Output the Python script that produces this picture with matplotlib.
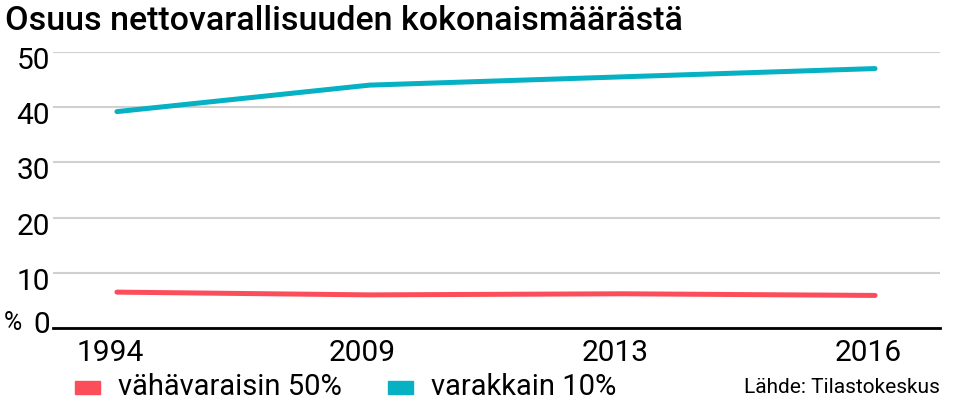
import matplotlib
matplotlib.use("Agg")
import matplotlib.pyplot as plt
import matplotlib.transforms as mtransforms
from matplotlib.patches import Rectangle

vuodet = ["1994", "2009", "2013", "2016"]
vahavaraisin = [6.5, 6.0, 6.2, 5.9]
varakkain = [39.2, 44.0, 45.5, 47.0]
sarjat = ["vähävaraisin 50%", "varakkain 10%"]
yticks = [0, 10, 20, 30, 40, 50]

punainen = "#fc4d5b"
turkoosi = "#06b1c3"

plt.rcParams["font.family"] = ["Roboto", "DejaVu Sans"]

fig = plt.figure(figsize=(9.59, 4.10), dpi=100)
ax = fig.add_axes([53/959, 81/410, 887/959, 276/410])

x = range(len(vuodet))
ax.plot(x, vahavaraisin, color=punainen, lw=3.6, solid_capstyle="round", clip_on=False, zorder=3)
ax.plot(x, varakkain, color=turkoosi, lw=3.6, solid_capstyle="round", clip_on=False, zorder=3)

ax.set_xlim(-0.253, 3.257)
ax.set_ylim(0, 50)

for s in ax.spines.values():
    s.set_visible(False)
ax.axhline(0, color="black", lw=2, zorder=2, clip_on=False)
ax.set_yticks(yticks)
ax.set_yticklabels([str(v) for v in yticks])
ax.yaxis.grid(True, color="#d0d0d0", lw=1.5)
ax.set_axisbelow(True)
ax.tick_params(axis="y", length=0, pad=2, labelsize=21.5)
ax.tick_params(axis="x", length=0, pad=7, labelsize=21.5)
ax.set_xticks(list(x))
ax.set_xticklabels(vuodet)

# siirretaan otsikot hieman
off = mtransforms.ScaledTranslation(-7/100, 0, fig.dpi_scale_trans)
for t in ax.get_xticklabels():
    t.set_transform(t.get_transform() + off)
for t, v in zip(ax.get_yticklabels(), yticks):
    dy = 7/100 if v == 0 else -5/100
    t.set_transform(t.get_transform() + mtransforms.ScaledTranslation(0, dy, fig.dpi_scale_trans))

fig.text(4/959, 1 - 323/410, "%", fontsize=18, ha="left", va="center")

fig.text(5/959, 1 - 21/410, "Osuus nettovarallisuuden kokonaismäärästä",
         fontsize=24.5, fontweight="medium", ha="left", va="center")

# selite
for nimi, vari, xs in zip(sarjat, [punainen, turkoosi], [75, 388]):
    fig.patches.append(Rectangle((xs/959, 1 - 395/410), 25/959, 13/410,
                                 transform=fig.transFigure, color=vari))
    fig.text((xs + 43)/959, 1 - 387/410, nimi, fontsize=21, ha="left", va="center")

fig.text(940/959, 1 - 388/410, "Lähde: Tilastokeskus", fontsize=15, ha="right", va="center")

fig.savefig("out.png", dpi=100)
